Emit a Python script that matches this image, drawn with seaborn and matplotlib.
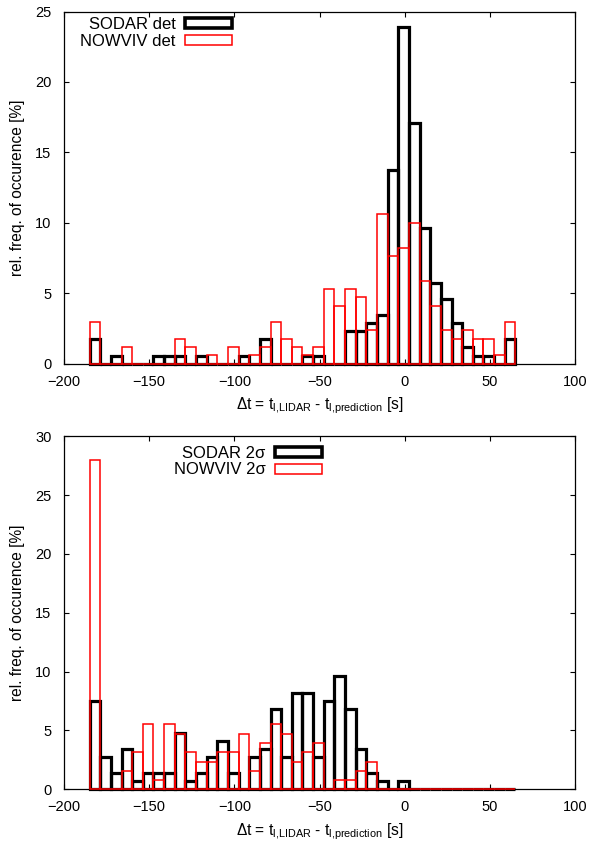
import numpy as np
import pandas as pd
import matplotlib
matplotlib.use("Agg")
import matplotlib.pyplot as plt
from matplotlib.patches import Patch
import seaborn as sns

# Histogram bins: 40 bins of 6.25 s between -185 s and 65 s
bin_start, bin_stop, bin_width = -185.0, 65.0, 6.25
bin_centers = np.arange(bin_start + bin_width / 2, bin_stop, bin_width)

# Upper panel: detection-based time differences [%]
sodar_det = [1.71, 0, 0.57, 0, 0, 0, 0.57, 0.57, 0.57, 0,
             0.57, 0, 0, 0, 0.57, 0, 1.71, 0, 0, 0,
             0.57, 0.57, 0, 0, 2.29, 2.29, 2.86, 3.43, 13.71, 23.9,
             17.1, 9.66, 5.71, 4.57, 2.86, 1.14, 0.57, 0.57, 0, 1.71]
nowviv_det = [2.94, 0, 0, 1.18, 0, 0, 0, 0, 1.76, 1.18,
              0, 0.59, 0, 1.18, 0, 0.59, 1.18, 2.94, 1.76, 1.18,
              0.59, 1.18, 5.29, 4.12, 5.29, 4.71, 2.35, 10.59, 7.65, 8.24,
              10.0, 5.88, 4.12, 2.35, 1.76, 2.35, 1.76, 1.76, 0.59, 2.94]

# Lower panel: 2-sigma based time differences [%]
sodar_2s = [7.53, 2.74, 1.37, 3.42, 0.68, 1.37, 1.37, 1.37, 4.79, 0.68,
            1.37, 2.74, 4.11, 1.37, 0, 2.74, 3.42, 6.85, 2.74, 8.22,
            8.22, 2.74, 7.53, 9.59, 6.85, 3.42, 1.37, 0.68, 0, 0.68,
            0, 0, 0, 0, 0, 0, 0, 0, 0, 0]
nowviv_2s = [28.0, 0, 0, 1.57, 3.15, 5.51, 0.79, 5.51, 4.72, 3.15,
             2.36, 2.36, 3.15, 3.15, 4.72, 1.57, 3.94, 5.51, 4.72, 2.36,
             3.15, 3.94, 0, 0.79, 0.79, 1.57, 2.36, 0, 0, 0,
             0, 0, 0, 0, 0, 0, 0, 0, 0, 0]

x_ticks = [-200, -150, -100, -50, 0, 50, 100]

sns.set_style("white")
plt.rcParams["font.family"] = ["Liberation Sans", "DejaVu Sans"]
plt.rcParams["mathtext.fontset"] = "custom"
plt.rcParams["mathtext.rm"] = "Liberation Sans"
plt.rcParams["mathtext.it"] = "Liberation Sans:italic"
for key in ["text.color", "axes.labelcolor", "xtick.color", "ytick.color"]:
    plt.rcParams[key] = "black"

fig = plt.figure(figsize=(5.89, 8.46), dpi=100)
ax_top = fig.add_axes([0.1087, 0.5703, 0.8676, 0.4161])
ax_bot = fig.add_axes([0.1087, 0.0670, 0.8676, 0.4173])

xlabel = r"$\Delta$t = t$_{\rm l{,}LIDAR}$ - t$_{\rm l{,}prediction}$ [s]"


def draw_panel(ax, sodar, nowviv, ymax, labels, legend_anchor):
    for values, color, lw, z in [(sodar, "black", 2.3, 3), (nowviv, "#ff0000", 1.1, 4)]:
        df = pd.DataFrame({"dt": bin_centers, "freq": np.asarray(values, float)})
        sns.histplot(data=df, x="dt", weights="freq",
                     binwidth=bin_width, binrange=(bin_start, bin_stop),
                     fill=False, element="bars", color=color,
                     linewidth=lw, ax=ax, legend=False,
                     clip_on=False, zorder=z)
    ax.set_xlim(-200, 100)
    ax.set_ylim(0, ymax)
    ax.set_xticks(x_ticks)
    ax.set_yticks(np.arange(0, ymax + 1, 5))
    ax.tick_params(axis="both", direction="in", length=3.5, width=0.8,
                   top=True, right=True, bottom=True, left=True, labelsize=10.5)
    ax.tick_params(axis="x", pad=8)
    ax.tick_params(axis="y", pad=9)
    for sp in ax.spines.values():
        sp.set_visible(True)
        sp.set_linewidth(0.9)
        sp.set_color("black")
    ax.set_xlabel(xlabel, fontsize=11.2, labelpad=5)
    ax.set_ylabel("rel. freq. of occurence [%]", fontsize=11.2, labelpad=7)
    handles = [Patch(facecolor="none", edgecolor="black", linewidth=2.6),
               Patch(facecolor="none", edgecolor="#ff0000", linewidth=1.1)]
    ax.legend(handles, labels, loc="upper right", bbox_to_anchor=legend_anchor,
              frameon=False, markerfirst=False, handlelength=2.8,
              handleheight=0.55, handletextpad=0.6, labelspacing=0.1,
              borderpad=0, borderaxespad=0, fontsize=12)


draw_panel(ax_top, sodar_det, nowviv_det, 25, ["SODAR det", "NOWVIV det"], (0.329, 0.984))
draw_panel(ax_bot, sodar_2s, nowviv_2s, 30, ["SODAR 2σ", "NOWVIV 2σ"], (0.505, 0.973))

fig.savefig("out.png", dpi=100, facecolor="white")
